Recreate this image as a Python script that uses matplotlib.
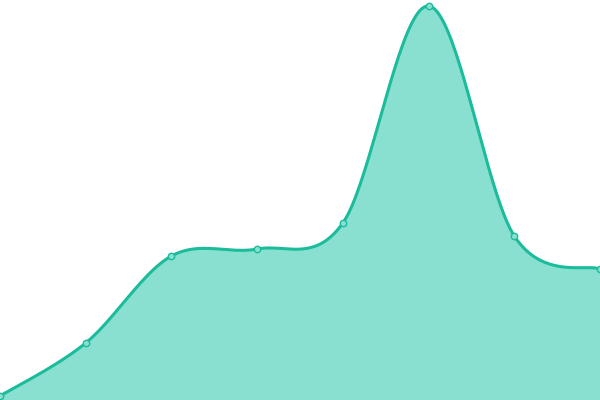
import numpy as np
import matplotlib
matplotlib.use("Agg")
import matplotlib.pyplot as plt

categories = list(range(8))
values = [4, 57, 144, 151, 177, 394, 164, 131]

line_color = "#1abc9c"
fill_color = "#8ae0d0"

def catmull_rom(xs, ys, n=40):
    xs = np.asarray(xs, float); ys = np.asarray(ys, float)
    px = np.concatenate([[xs[0]], xs, [xs[-1]]])
    py = np.concatenate([[ys[0]], ys, [ys[-1]]])
    ox, oy = [], []
    for i in range(1, len(px) - 2):
        p0, p1, p2, p3 = (np.array([px[j], py[j]]) for j in (i - 1, i, i + 1, i + 2))
        t = np.linspace(0, 1, n, endpoint=False)[:, None]
        c1 = p1 + (p2 - p0) / 6
        c2 = p2 - (p3 - p1) / 6
        pts = ((1 - t) ** 3) * p1 + 3 * ((1 - t) ** 2) * t * c1 + 3 * (1 - t) * t ** 2 * c2 + t ** 3 * p2
        ox.extend(pts[:, 0]); oy.extend(pts[:, 1])
    ox.append(xs[-1]); oy.append(ys[-1])
    return np.array(ox), np.array(oy)

fig = plt.figure(figsize=(6, 4), dpi=100)
ax = fig.add_axes([0, 0, 1, 1])
sx, sy = catmull_rom(categories, values)
ax.fill_between(sx, sy, 0, color=fill_color, linewidth=0)
ax.plot(sx, sy, color=line_color, linewidth=2.2)
ax.plot(categories, values, "o", markersize=4.6, markerfacecolor=fill_color,
        markeredgecolor=line_color, markeredgewidth=1)
ax.set_xlim(0, 7)
ax.set_ylim(0, 400)
ax.axis("off")
fig.savefig("out.png", dpi=100)
